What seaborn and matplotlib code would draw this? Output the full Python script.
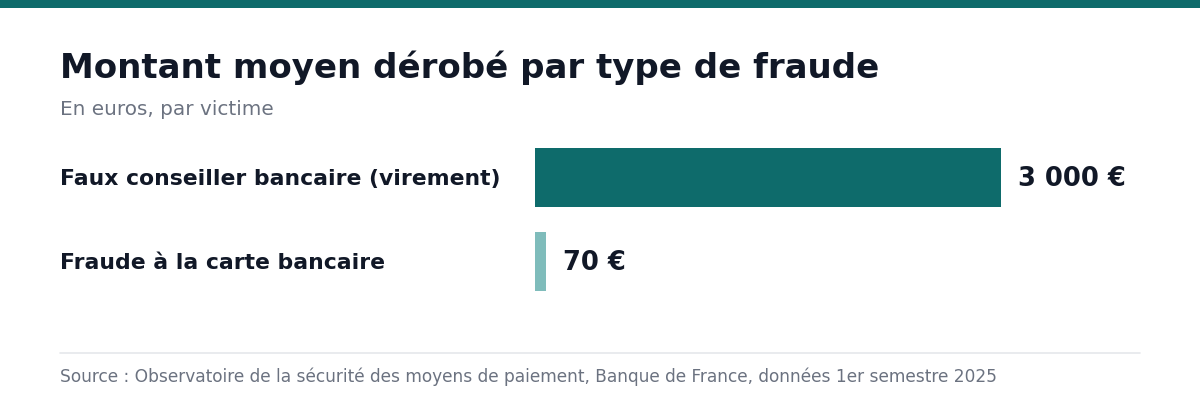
import matplotlib
matplotlib.use("Agg")
import matplotlib.pyplot as plt
import matplotlib.transforms as mtransforms
import seaborn as sns
import pandas as pd

# data
categories = ["Faux conseiller bancaire (virement)", "Fraude à la carte bancaire"]
values = [3000, 70]
value_labels = ["3 000 €", "70 €"]
colors = ["#0e6b6b", "#7fbcbb"]

sns.set_theme(style="white")
plt.rcParams["font.family"] = ["DejaVu Sans"]

df = pd.DataFrame({"type": categories, "montant": values})

W, H = 1200, 408
fig = plt.figure(figsize=(12, 4.08), dpi=100)
fig.patch.set_facecolor("white")

# top accent band
fig.add_artist(plt.Rectangle((0, 1 - 8 / H), 1, 8 / H, transform=fig.transFigure,
                             color="#0e6b6b", lw=0))

ax = fig.add_axes([535 / W, 1 - 303.5 / H, 466 / W, 168 / H])
sns.barplot(data=df, x="montant", y="type", hue="type", palette=colors,
            orient="h", width=0.7, legend=False, ax=ax, saturation=1, linewidth=0)
ax.set_xlim(0, 3000)
ax.set_ylim(1.5, -0.5)
ax.axis("off")

trans = mtransforms.blended_transform_factory(fig.transFigure, ax.transData)
for i, cat in enumerate(categories):
    ax.annotate(cat, xy=(60 / W, i), xycoords=trans, xytext=(0, -1.5),
                textcoords="offset pixels", ha="left", va="center",
                fontsize=15.75, fontweight="bold", color="#111827",
                annotation_clip=False)

for i, (v, lab) in enumerate(zip(values, value_labels)):
    ax.annotate(lab, xy=(v, i), xytext=(17, -1.5), textcoords="offset pixels",
                ha="left", va="center", fontsize=18.5, fontweight="bold",
                color="#111827", annotation_clip=False)

fig.text(60 / W, 1 - 68 / H, "Montant moyen dérobé par type de fraude",
         ha="left", va="center", fontsize=24.5, fontweight="bold", color="#111827")
fig.text(60 / W, 1 - 109.5 / H, "En euros, par victime",
         ha="left", va="center", fontsize=14.4, color="#6b7280")

fig.add_artist(plt.Line2D([60 / W, 1140 / W], [1 - 353 / H, 1 - 353 / H],
                          transform=fig.transFigure, color="#e5e7eb", lw=1.2))
fig.text(60 / W, 1 - 377 / H,
         "Source : Observatoire de la sécurité des moyens de paiement, Banque de France, données 1er semestre 2025",
         ha="left", va="center", fontsize=12.25, color="#6b7280")

fig.savefig("out.png", dpi=100, facecolor="white")
